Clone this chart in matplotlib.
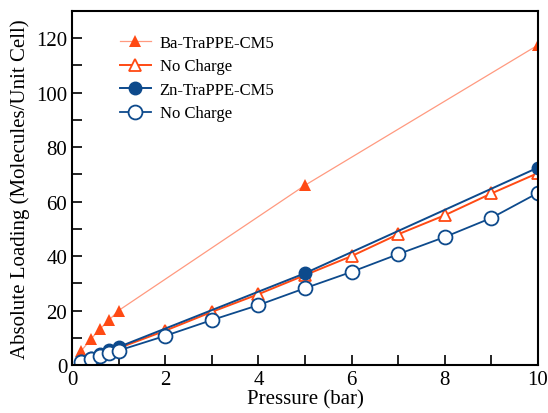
import numpy as np
import matplotlib
matplotlib.use('Agg')
from matplotlib import pyplot as plt
from matplotlib.ticker import MultipleLocator

# Ba-TraPPE-CM5 (charged) and its no-charge counterpart
ba_p = [0.2, 0.4, 0.6, 0.8, 1.0, 5, 10]
ba_load = [5.2, 9.4, 13.2, 16.6, 20.0, 66.0, 117.5]
ba_nc_p = [1, 2, 3, 4, 5, 6, 7, 8, 9, 10]
ba_nc_load = [6.2, 12.6, 19.5, 26.0, 33.0, 40.0, 48.0, 55.0, 63.0, 70.5]

# Zn-TraPPE-CM5 (charged) and its no-charge counterpart
zn_p = [0.2, 0.4, 0.6, 0.8, 1.0, 5, 10]
zn_load = [1.3, 2.7, 4.1, 5.5, 6.6, 33.7, 72.5]
zn_nc_p = [0.2, 0.4, 0.6, 0.8, 1.0, 2, 3, 4, 5, 6, 7, 8, 9, 10]
zn_nc_load = [1.0, 2.2, 3.3, 4.3, 5.3, 10.7, 16.5, 22.0, 28.2, 34.2, 40.7, 47.0, 54.0, 63.2]

orange = '#ff4a14'
salmon = '#ff9a80'
blue = '#0d4a8c'

plt.rcParams['font.family'] = ['Liberation Serif', 'DejaVu Serif']
plt.rcParams['font.size'] = 15

fig = plt.figure(figsize=(5.48, 4.14), dpi=100)
ax = fig.add_axes([72/548, 48/414, 466/548, 354/414])

# thin light line for the charged Ba curve, solid markers
ax.plot(ba_p, ba_load, color=salmon, lw=0.9, marker='^', ms=8,
        mfc=orange, mec=orange, mew=0, label='Ba-TraPPE-CM5')
ax.plot(ba_nc_p, ba_nc_load, color=orange, lw=1.4, marker='^', ms=8,
        mfc='white', mec=orange, mew=1.3, label='No Charge')
ax.plot(zn_p, zn_load, color=blue, lw=1.4, marker='o', ms=9,
        mfc=blue, mec=blue, label='Zn-TraPPE-CM5')
ax.plot(zn_nc_p, zn_nc_load, color=blue, lw=1.3, marker='o', ms=10,
        mfc='white', mec=blue, mew=1.3, label='No Charge')

ax.set_xlim(0, 10)
ax.set_ylim(0, 130)
ax.xaxis.set_major_locator(MultipleLocator(2))
ax.xaxis.set_minor_locator(MultipleLocator(1))
ax.yaxis.set_major_locator(MultipleLocator(20))
ax.yaxis.set_minor_locator(MultipleLocator(10))
ax.tick_params(which='both', direction='in', top=False, right=False,
               width=1.2, length=7, labelsize=15)
for s in ax.spines.values():
    s.set_linewidth(1.5)

ax.set_xlabel('Pressure (bar)', fontsize=15, labelpad=0)
ax.set_ylabel('Absolute Loading (Molecules/Unit Cell)', fontsize=15, labelpad=4)

ax.legend(loc='upper left', frameon=False, fontsize=12,
          bbox_to_anchor=(0.07, 0.975), handlelength=1.9,
          handletextpad=0.5, labelspacing=0.45)

fig.savefig('out.png', dpi=100)
